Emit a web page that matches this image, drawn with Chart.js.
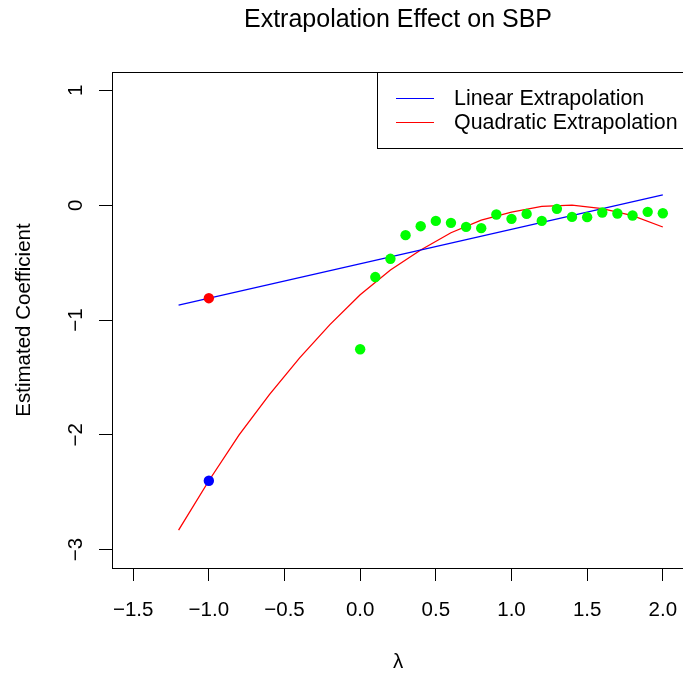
<!DOCTYPE html>
<html>
<head>
<meta charset="utf-8">
<script src="https://cdn.jsdelivr.net/npm/chart.js@4.4.1/dist/chart.umd.min.js"></script>
<style>
  html, body { margin: 0; padding: 0; background: #fff; overflow: hidden; }
  #wrap { width: 683px; height: 673px; overflow: hidden; position: relative; }
  canvas { display: block; }
</style>
</head>
<body>
<div id="wrap"><canvas id="myChart" width="700" height="673"></canvas></div>
<script>
// simulated coefficients per lambda (green points)
const lambdaSim = [0.0, 0.1, 0.2, 0.3, 0.4, 0.5, 0.6, 0.7, 0.8, 0.9, 1.0,
                   1.1, 1.2, 1.3, 1.4, 1.5, 1.6, 1.7, 1.8, 1.9, 2.0];
const coefSim = [-1.255, -0.626, -0.467, -0.261, -0.183, -0.137, -0.154, -0.189, -0.200, -0.081, -0.119,
                 -0.076, -0.137, -0.032, -0.102, -0.104, -0.064, -0.072, -0.090, -0.058, -0.070];

// linear extrapolation line (two ends)
const lambdaLin = [-1.2, 2.0];
const coefLin = [-0.87, 0.09];

// quadratic extrapolation curve
const lambdaQuad = [-1.2, -1.0, -0.8, -0.6, -0.4, -0.2, 0.0, 0.2, 0.4, 0.6, 0.8,
                    1.0, 1.2, 1.4, 1.6, 1.8, 2.0];
const coefQuad = [-2.83, -2.40, -2.00, -1.65, -1.33, -1.04, -0.78, -0.565, -0.39, -0.24, -0.13,
                  -0.06, -0.01, 0.00, -0.03, -0.09, -0.19];

// extrapolated estimates at lambda = -1
const lambdaEst = [-1.0];
const linEst = [-0.81];
const quadEst = [-2.40];

const xTicks = [-1.5, -1.0, -0.5, 0.0, 0.5, 1.0, 1.5, 2.0];
const yTicks = [-3, -2, -1, 0, 1];

const FONT = '"Liberation Sans", Arial, Helvetica, sans-serif';
Chart.defaults.font.family = FONT;
Chart.defaults.color = '#000';

const pts = (xs, ys) => xs.map((x, i) => ({x: x, y: ys[i]}));
const minus = (s) => s.replace('-', '\u2212');

// box, rotated y labels and the boxed legend, the way R draws them
const rStyle = {
    id: 'rStyle',
    afterDraw(chart) {
        const {ctx, chartArea: a, scales} = chart;
        ctx.save();
        ctx.strokeStyle = '#000';
        ctx.lineWidth = 1;
        const l = Math.round(a.left), t = Math.round(a.top);
        ctx.strokeRect(l + 0.5, t + 0.5, Math.round(a.right) - l, Math.round(a.bottom) - t);

        ctx.fillStyle = '#000';
        ctx.font = '20.5px ' + FONT;
        ctx.textAlign = 'center';
        ctx.textBaseline = 'middle';
        yTicks.forEach(v => {
            const y = scales.y.getPixelForValue(v);
            ctx.save();
            ctx.translate(a.left - 37, y);
            ctx.rotate(-Math.PI / 2);
            ctx.fillText(minus(String(v)), 0, 1);
            ctx.restore();
        });

        // legend
        const bx = 377, by = t, bw = Math.round(a.right) - bx, bh = 76;
        ctx.fillStyle = '#fff';
        ctx.fillRect(bx, by, bw, bh);
        ctx.strokeRect(bx + 0.5, by + 0.5, bw, bh);
        ctx.font = '21.4px ' + FONT;
        const items = chart.data.datasets.filter(d => d.inLegend);
        items.forEach((d, i) => {
            const y = by + 25.7 + i * 24.6;
            ctx.strokeStyle = d.borderColor;
            ctx.beginPath();
            ctx.moveTo(bx + 19, Math.round(y) + 0.5);
            ctx.lineTo(bx + 57, Math.round(y) + 0.5);
            ctx.stroke();
            ctx.fillStyle = '#000';
            ctx.textAlign = 'left';
            ctx.fillText(d.label, bx + 77, y + 1);
        });
        ctx.restore();
    }
};

const data = {
    datasets: [
        {
            label: 'Linear estimate',
            data: pts(lambdaEst, linEst),
            backgroundColor: '#ff0000',
            borderColor: '#ff0000',
            pointRadius: 5.2,
            borderWidth: 0
        },
        {
            label: 'Quadratic estimate',
            data: pts(lambdaEst, quadEst),
            backgroundColor: '#0000ff',
            borderColor: '#0000ff',
            pointRadius: 5.2,
            borderWidth: 0
        },
        {
            label: 'Simulation',
            data: pts(lambdaSim, coefSim),
            backgroundColor: '#00ff00',
            borderColor: '#00ff00',
            pointRadius: 5.2,
            borderWidth: 0
        },
        {
            label: 'Linear Extrapolation',
            inLegend: true,
            data: pts(lambdaLin, coefLin),
            showLine: true,
            borderColor: '#0000ff',
            borderWidth: 1.3,
            pointRadius: 0
        },
        {
            label: 'Quadratic Extrapolation',
            inLegend: true,
            data: pts(lambdaQuad, coefQuad),
            showLine: true,
            borderColor: '#ff0000',
            borderWidth: 1.3,
            pointRadius: 0
        }
    ]
};

const config = {
    type: 'scatter',
    data: data,
    options: {
        responsive: false,
        animation: false,
        events: [],
        layout: { padding: { left: 0, right: 16, top: 0, bottom: 0 } },
        plugins: {
            legend: { display: false },
            tooltip: { enabled: false },
            title: {
                display: true,
                fullSize: false,
                text: 'Extrapolation Effect on SBP',
                color: '#000',
                font: { size: 25, weight: 'normal', lineHeight: 1.2 },
                padding: { top: 5, bottom: 37 }
            }
        },
        scales: {
            x: {
                type: 'linear',
                min: -1.64,
                max: 2.14,
                afterBuildTicks: (s) => { s.ticks = xTicks.map(v => ({value: v})); },
                afterFit: (s) => { s.height = 105; },
                grid: { display: true, drawOnChartArea: false, drawTicks: true, tickLength: 13, color: '#000', lineWidth: 1 },
                border: { display: true, color: '#000', width: 1 },
                ticks: {
                    font: { size: 20.5 },
                    padding: 17,
                    maxRotation: 0,
                    autoSkip: false,
                    callback: (v) => minus(v.toFixed(1))
                },
                title: {
                    display: true,
                    text: 'λ',
                    font: { size: 20.5, lineHeight: 1.2 },
                    padding: { top: 0, bottom: -2 }
                }
            },
            y: {
                type: 'linear',
                min: -3.16,
                max: 1.16,
                afterBuildTicks: (s) => { s.ticks = yTicks.map(v => ({value: v})); },
                afterFit: (s) => { s.width = 112; },
                grid: { display: true, drawOnChartArea: false, drawTicks: true, tickLength: 13, color: '#000', lineWidth: 1 },
                border: { display: true, color: '#000', width: 1 },
                ticks: { display: false },
                title: {
                    display: true,
                    text: 'Estimated Coefficient',
                    font: { size: 20.5, lineHeight: 1.2 },
                    padding: { top: 12, bottom: 0 }
                }
            }
        }
    },
    plugins: [rStyle]
};

const myChart = new Chart(
    document.getElementById('myChart'),
    config
);
</script>
</body>
</html>
